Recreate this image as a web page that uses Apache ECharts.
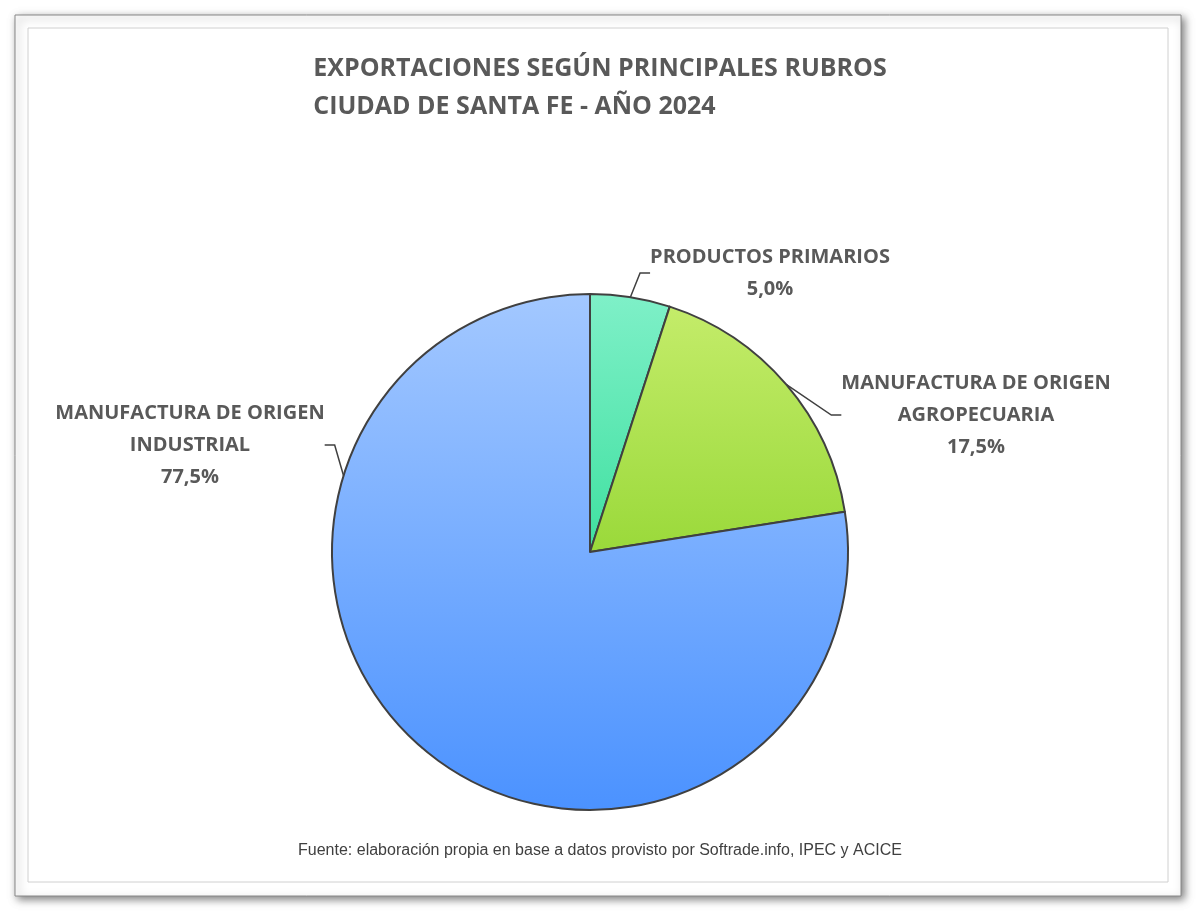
<!DOCTYPE html>
<html><head><meta charset="utf-8">
<script src="https://cdn.jsdelivr.net/npm/echarts@6/dist/echarts.min.js"></script>
<style>html,body{margin:0;background:#fff}#c{width:1200px;height:912px}</style>
</head><body><div id="c"></div>
<script>
const categories = ['PRODUCTOS PRIMARIOS', 'MANUFACTURA DE ORIGEN\nAGROPECUARIA', 'MANUFACTURA DE ORIGEN\nINDUSTRIAL'];
const values = [5.0, 17.5, 77.5];
const colors = [
  new echarts.graphic.LinearGradient(0,0,0,1,[{offset:0,color:'#7ff0c8'},{offset:1,color:'#3fe0a0'}]),
  new echarts.graphic.LinearGradient(0,0,0,1,[{offset:0,color:'#c4ec6a'},{offset:1,color:'#9ad93a'}]),
  new echarts.graphic.LinearGradient(0,0,0,1,[{offset:0,color:'#a3c8ff'},{offset:1,color:'#4b92ff'}])
];
const labelPos = [
  {x:770, y:273, align:'center'},
  {x:976, y:415, align:'center'},
  {x:190, y:445, align:'center'}
];
const chart = echarts.init(document.getElementById('c'));
chart.setOption({
  backgroundColor:'#fff',
  graphic:[
    {type:'rect', shape:{x:15,y:15,width:1166,height:881}, style:{fill:'#fff',stroke:'#888',lineWidth:1,shadowBlur:8,shadowColor:'rgba(0,0,0,0.5)',shadowOffsetX:3,shadowOffsetY:3}, z:-10},
    {type:'rect', shape:{x:28,y:28,width:1140,height:854}, style:{fill:'#fff',stroke:'#d0d0d0',lineWidth:1}, z:-9},
    {type:'text', left:'center', top:50, style:{text:'EXPORTACIONES SEGÚN PRINCIPALES RUBROS\nCIUDAD DE SANTA FE - AÑO 2024', font:'bold 25px "Open Sans"', fill:'#595959', align:'center', lineHeight:38}},
    {type:'text', left:'center', top:843, style:{text:'Fuente: elaboración propia en base a datos provisto por Softrade.info, IPEC y ACICE', font:'16px "Liberation Sans"', fill:'#404040'}}
  ],
  series:[{
    type:'pie', center:[590,552], radius:258, startAngle:90, clockwise:true,
    itemStyle:{borderColor:'#404040', borderWidth:2},
    data: categories.map((n,i)=>({name:n, value:values[i], itemStyle:{color:colors[i]}})),
    label:{show:true, formatter:p=>p.name+'\n'+p.value.toFixed(1).replace('.',',')+'%', font:'bold 20px "Open Sans"', fontWeight:'bold', fontSize:20, fontFamily:'Open Sans', color:'#595959', lineHeight:32, align:'center'},
    labelLine:{show:true, lineStyle:{color:'#404040', width:1.5}, length:10, length2:10},
    labelLayout:p=>{const l=labelPos[p.dataIndex]; return {x:l.x, y:l.y, align:l.align, verticalAlign:'middle'};}
  }]
});
</script></body></html>
